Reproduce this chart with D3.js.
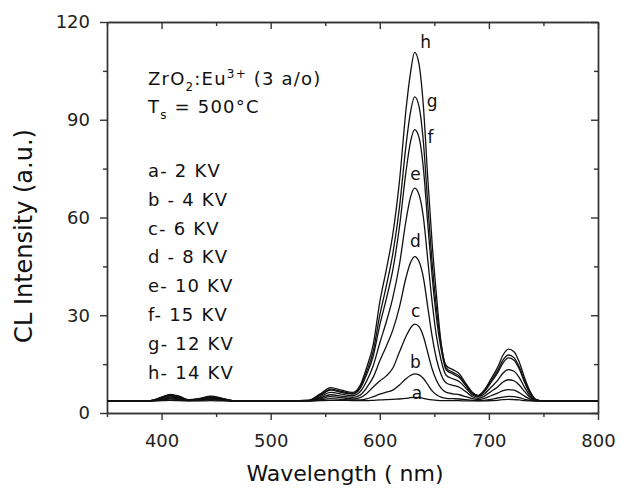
<!DOCTYPE html>
<html>
<head>
<meta charset="utf-8">
<script src="https://cdn.jsdelivr.net/npm/d3@7"></script>
<style>
  body { margin: 0; background: #fff; }
  svg { display: block; font-family: "DejaVu Sans", sans-serif; }
  .axis path, .axis line { stroke: #333; stroke-width: 1.4; }
  .axis text { fill: #222; font-size: 18px; font-family: "DejaVu Sans", sans-serif; }
</style>
</head>
<body>
<div id="chart"></div>
<script>
// wavelength grid (nm) shared by all curves
var wavelengths = [350, 390, 400, 408, 416, 425, 435, 445, 455, 465,
  500, 535, 545, 555, 565, 575, 582, 588, 594, 600,
  606, 612, 618, 624, 628, 632, 636, 640, 644, 648,
  652, 656, 661, 667, 673, 679, 685, 690, 696, 702,
  708, 713, 718, 723, 728, 733, 738, 743, 750, 800];

var curveA = [3.7, 3.7, 3.8, 3.9, 3.8, 3.7, 3.7, 3.8, 3.7, 3.7,
  3.7, 3.7, 3.8, 3.9, 3.9, 3.8, 3.8, 3.8, 3.9, 4.0,
  4.1, 4.2, 4.3, 4.5, 4.7, 4.8, 4.7, 4.5, 4.2, 4.0,
  3.9, 3.8, 3.8, 3.8, 3.8, 3.7, 3.7, 3.7, 3.7, 3.8,
  3.9, 4.1, 4.2, 4.1, 4.0, 3.8, 3.7, 3.7, 3.7, 3.7];
var curveB = [3.7, 3.7, 4.0, 4.3, 4.1, 3.8, 3.9, 4.1, 3.9, 3.7,
  3.7, 3.7, 4.0, 4.4, 4.2, 4.0, 4.0, 4.3, 5.0, 5.8,
  6.4, 7.0, 8.6, 10.5, 11.5, 12, 11.7, 10.6, 8.7, 6.8,
  5.6, 4.9, 4.5, 4.4, 4.3, 4.1, 3.9, 3.8, 3.9, 4.2,
  4.6, 4.9, 5.1, 5.0, 4.7, 4.2, 3.9, 3.7, 3.7, 3.7];
var curveC = [3.7, 3.7, 4.2, 4.6, 4.3, 3.8, 4.0, 4.3, 4.0, 3.7,
  3.7, 3.7, 4.3, 5.0, 4.7, 4.3, 4.7, 6.0, 8.0, 9.8,
  11.4, 13.8, 18.7, 23.5, 26, 27.3, 26.5, 23.5, 18.5, 13.5,
  10, 7.7, 6.3, 5.9, 5.6, 5.0, 4.4, 4.1, 4.5, 5.3,
  6.1, 6.9, 7.2, 7.0, 6.2, 5.1, 4.2, 3.7, 3.7, 3.7];
var curveD = [3.7, 3.7, 4.4, 4.9, 4.6, 3.9, 4.1, 4.5, 4.2, 3.7,
  3.7, 3.8, 4.6, 5.6, 5.2, 4.8, 5.5, 7.8, 11, 16,
  20.5, 25.5, 32.5, 41.5, 46, 48, 46.5, 41.5, 32.5, 23.5,
  16.5, 12, 9.2, 8.5, 7.9, 6.5, 5.0, 4.5, 5.2, 6.6,
  8.0, 9.5, 10.2, 9.9, 8.5, 6.5, 4.7, 3.8, 3.7, 3.7];
var curveE = [3.7, 3.8, 4.6, 5.2, 4.8, 3.9, 4.2, 4.7, 4.3, 3.8,
  3.7, 3.8, 4.9, 6.3, 5.8, 5.3, 6.5, 9.8, 14.5, 21.5,
  28, 35.5, 45.5, 59, 66, 69, 67, 60, 47, 34,
  23.5, 16.5, 11.5, 10.5, 9.6, 7.6, 5.5, 4.9, 5.9, 7.9,
  10, 12.3, 13.3, 12.8, 10.8, 7.7, 5.2, 3.9, 3.7, 3.7];
var curveF = [3.7, 3.8, 4.7, 5.4, 4.9, 4.0, 4.3, 4.9, 4.4, 3.8,
  3.7, 3.9, 5.3, 7.0, 6.3, 5.8, 7.5, 11.8, 17.5, 27,
  35, 44, 57, 74, 83, 87, 84.5, 75, 58, 42,
  29, 20, 13.2, 12, 10.8, 8.3, 5.9, 5.2, 6.6, 9.4,
  12.3, 15.4, 16.9, 16.2, 13.4, 9.2, 5.8, 4.0, 3.7, 3.7];
var curveG = [3.7, 3.8, 4.8, 5.5, 5.0, 4.0, 4.4, 5.0, 4.5, 3.8,
  3.7, 3.9, 5.5, 7.3, 6.6, 6.0, 8.0, 12.8, 19, 30,
  39, 49, 63, 82, 92, 97, 94, 83, 64, 46,
  32, 21.5, 13.8, 12.5, 11.3, 8.6, 6.1, 5.3, 6.9, 9.9,
  13, 16.3, 17.8, 17, 14, 9.6, 6, 4.1, 3.7, 3.7];
var curveH = [3.7, 3.8, 4.9, 5.7, 5.2, 4.1, 4.5, 5.2, 4.6, 3.8,
  3.7, 3.9, 5.8, 7.8, 7.0, 6.3, 8.5, 14, 21, 34,
  44, 55, 71, 93, 104, 110.7, 107, 94, 72, 52,
  36, 22, 14.5, 13.3, 12, 9, 6.3, 5.4, 7.2, 10.5,
  14, 17.8, 19.6, 18.8, 15.5, 10.5, 6.5, 4.2, 3.7, 3.7];

var series = [curveA, curveB, curveC, curveD, curveE, curveF, curveG, curveH];

// curve letters and where they sit (nm, intensity)
var letters = ["a", "b", "c", "d", "e", "f", "g", "h"];
var letterNm = [634, 632.7, 633, 632.7, 632.7, 646.5, 648, 642];
var letterVal = [4.3, 13.8, 29.5, 51, 71.5, 82.9, 94, 112];

var legendLines = ["a- 2 KV", "b - 4 KV", "c- 6 KV", "d - 8 KV",
  "e- 10 KV", "f- 15 KV", "g- 12 KV", "h- 14 KV"];

var xMajor = [400, 500, 600, 700, 800];
var xMinor = [350, 450, 550, 650, 750];
var yMajor = [0, 30, 60, 90, 120];
var yMinor = [15, 45, 75, 105];

var W = 622, H = 491;
var margin = {top: 22, right: 24, bottom: 78, left: 107};
var w = W - margin.left - margin.right,
    h = H - margin.top - margin.bottom;

var svg = d3.select("#chart").append("svg")
  .attr("width", W)
  .attr("height", H);

var g = svg.append("g")
  .attr("transform", "translate(" + margin.left + "," + margin.top + ")");

var x = d3.scaleLinear().domain([350, 800]).range([0, w]);
var y = d3.scaleLinear().domain([0, 120]).range([h, 0]);

// axes: bottom + left with labels, top + right ticks inward
g.append("g").attr("class", "axis")
  .attr("transform", "translate(0," + h + ")")
  .call(d3.axisBottom(x).tickValues(xMajor).tickSize(7).tickSizeOuter(0).tickPadding(14));
g.append("g").attr("class", "axis")
  .attr("transform", "translate(0," + h + ")")
  .call(d3.axisBottom(x).tickValues(xMinor).tickSize(4).tickSizeOuter(0).tickFormat(""));

g.append("g").attr("class", "axis")
  .call(d3.axisBottom(x).tickValues(xMajor).tickSize(7).tickSizeOuter(0).tickFormat(""));
g.append("g").attr("class", "axis")
  .call(d3.axisBottom(x).tickValues(xMinor).tickSize(4).tickSizeOuter(0).tickFormat(""));

g.append("g").attr("class", "axis")
  .call(d3.axisLeft(y).tickValues(yMajor).tickSize(7).tickSizeOuter(0).tickPadding(10));
g.append("g").attr("class", "axis")
  .call(d3.axisLeft(y).tickValues(yMinor).tickSize(4).tickSizeOuter(0).tickFormat(""));

g.append("g").attr("class", "axis")
  .attr("transform", "translate(" + w + ",0)")
  .call(d3.axisLeft(y).tickValues(yMajor).tickSize(7).tickSizeOuter(0).tickFormat(""));
g.append("g").attr("class", "axis")
  .attr("transform", "translate(" + w + ",0)")
  .call(d3.axisLeft(y).tickValues(yMinor).tickSize(4).tickSizeOuter(0).tickFormat(""));

// curves
var line = d3.line()
  .x(function(d, i) { return x(wavelengths[i]); })
  .y(function(d) { return y(d); })
  .curve(d3.curveMonotoneX);

g.selectAll(".curve")
  .data(series)
  .enter().append("path")
  .attr("class", "curve")
  .attr("d", line)
  .attr("fill", "none")
  .attr("stroke", "#111")
  .attr("stroke-width", 1.3);

// letters on the peaks
g.selectAll(".letter")
  .data(letters)
  .enter().append("text")
  .attr("class", "letter")
  .attr("x", function(d, i) { return x(letterNm[i]); })
  .attr("y", function(d, i) { return y(letterVal[i]); })
  .attr("text-anchor", "middle")
  .style("font-size", "17px")
  .style("fill", "#111")
  .text(function(d) { return d; });

// sample annotation
var note = g.append("g")
  .style("font-size", "18px")
  .style("letter-spacing", "1.2px")
  .style("fill", "#111");
var t1 = note.append("text").attr("x", 41).attr("y", 63);
t1.append("tspan").text("ZrO");
t1.append("tspan").attr("dy", 6).style("font-size", "12px").text("2");
t1.append("tspan").attr("dy", -6).text(":Eu");
t1.append("tspan").attr("dy", -7).style("font-size", "12px").text("3+");
t1.append("tspan").attr("dy", 7).text(" (3 a/o)");

var t2 = note.append("text").attr("x", 41).attr("y", 91);
t2.append("tspan").text("T");
t2.append("tspan").attr("dy", 6).style("font-size", "12px").text("s");
t2.append("tspan").attr("dy", -6).text(" = 500°C");

note.selectAll(".leg")
  .data(legendLines)
  .enter().append("text")
  .attr("class", "leg")
  .attr("x", 41)
  .attr("y", function(d, i) { return 155 + i * 28.8; })
  .text(function(d) { return d; });

// axis titles
svg.append("text")
  .attr("x", 345)
  .attr("y", 481)
  .attr("text-anchor", "middle")
  .style("font-size", "22px")
  .style("fill", "#111")
  .text("Wavelength ( nm)");

svg.append("text")
  .attr("transform", "translate(32,236) rotate(-90)")
  .attr("text-anchor", "middle")
  .style("font-size", "24px")
  .style("fill", "#111")
  .text("CL Intensity (a.u.)");
</script>
</body>
</html>
